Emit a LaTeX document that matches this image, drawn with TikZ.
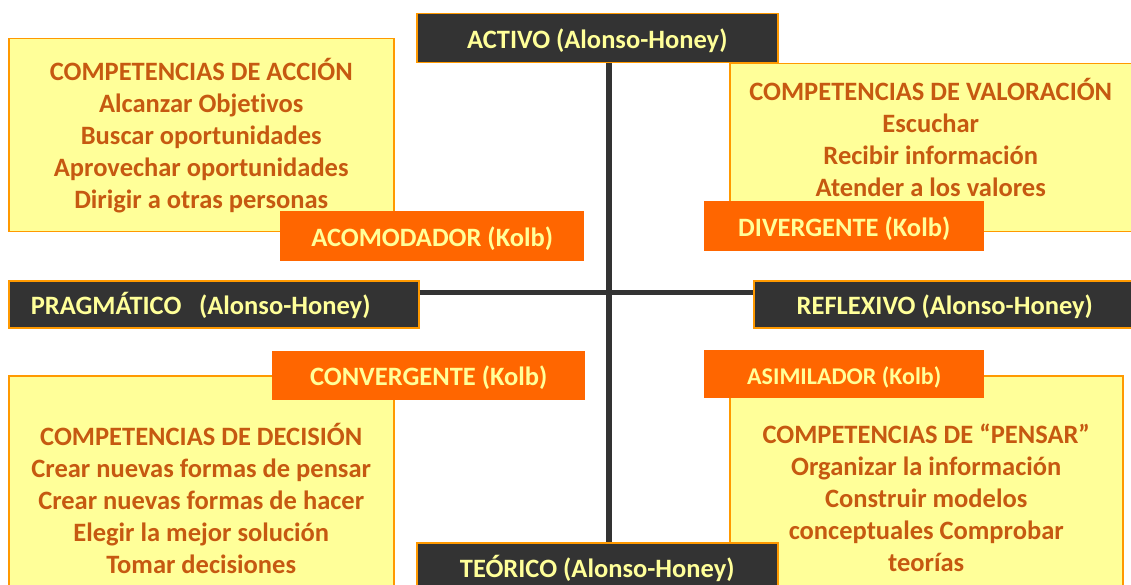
\documentclass[tikz,border=0pt]{standalone}
\usepackage{fontspec}
\setmainfont[Ligatures=NoCommon]{Carlito}
\definecolor{pale}{HTML}{FFFF99}
\definecolor{rim}{HTML}{FF9900}
\definecolor{slate}{HTML}{333333}
\definecolor{flame}{HTML}{FF6600}
\definecolor{rust}{HTML}{C65911}
\begin{document}
\begin{tikzpicture}
[x=1pt,y=-1pt,
 panel/.style={draw=rim,fill=pale,line width=1.5pt,anchor=north west,inner sep=0pt,
   align=center,text=rust,font=\bfseries\fontsize{26.5}{32}\selectfont},
 dark/.style={draw=rim,fill=slate,line width=1.5pt,anchor=north west,inner sep=0pt,
   text=pale,font=\bfseries\fontsize{26.5}{30}\selectfont,text height=25pt,text depth=4pt},
 tag/.style={fill=flame,anchor=north west,inner sep=0pt,
   text=pale,font=\bfseries\fontsize{26.5}{30}\selectfont,text height=24pt,text depth=4pt},
 axis/.style={draw=slate,line width=6pt}]
\useasboundingbox (0,0) rectangle (1131,585);
\clip (0,0) rectangle (1131,585);

% competencias
\node [panel,minimum width=385pt,minimum height=193pt] at (8,38) (accion)
  {COMPETENCIAS DE ACCIÓN\\Alcanzar Objetivos\\Buscar oportunidades\\Aprovechar oportunidades\\Dirigir a otras personas};
\node [panel,minimum width=402pt,minimum height=168pt,text depth=20pt] at (729,63) (valoracion)
  {COMPETENCIAS DE VALORACIÓN\\Escuchar\\Recibir información\\Atender a los valores};
\node [panel,minimum width=385pt,minimum height=245pt] at (8,375) (decision)
  {COMPETENCIAS DE DECISIÓN\\Crear nuevas formas de pensar\\Crear nuevas formas de hacer\\Elegir la mejor solución\\Tomar decisiones};
\node [panel,minimum width=393pt,minimum height=245pt] at (729,375) (pensar)
  {COMPETENCIAS DE “PENSAR”\\Organizar la información\\Construir modelos\\conceptuales Comprobar\\teorías};

% estilos Alonso-Honey
\node [dark,minimum width=361pt,minimum height=49pt] at (416,13) (activo) {ACTIVO (Alonso-Honey)};
\node [dark,minimum width=410pt,minimum height=47pt,text width=366pt,align=left] at (8,280) (pragmatico) {PRAGMÁTICO\ \ (Alonso-Honey)};
\node [dark,minimum width=382pt,minimum height=47pt] at (753,280) (reflexivo) {REFLEXIVO (Alonso-Honey)};
\node [dark,minimum width=361pt,minimum height=49pt] at (416,542) (teorico) {TEÓRICO (Alonso-Honey)};

\coordinate (vx) at (609,0);
\coordinate (hy) at (0,292);
\draw [axis] (activo.south -| vx) -- (teorico.north -| vx);
\draw [axis,line width=5pt] (pragmatico.east |- hy) -- (reflexivo.west |- hy);

% estilos Kolb
\node [tag,minimum width=304pt,minimum height=50pt] at (280,211) (acomodador) {ACOMODADOR (Kolb)};
\node [tag,minimum width=280pt,minimum height=50pt] at (704,201) (divergente) {DIVERGENTE (Kolb)};
\node [tag,minimum width=313pt,minimum height=49pt] at (272,351) (convergente) {CONVERGENTE (Kolb)};
\node [tag,minimum width=280pt,minimum height=48pt,font=\bfseries\fontsize{24}{28}\selectfont] at (704,350) (asimilador) {ASIMILADOR (Kolb)};
\end{tikzpicture}
\end{document}
